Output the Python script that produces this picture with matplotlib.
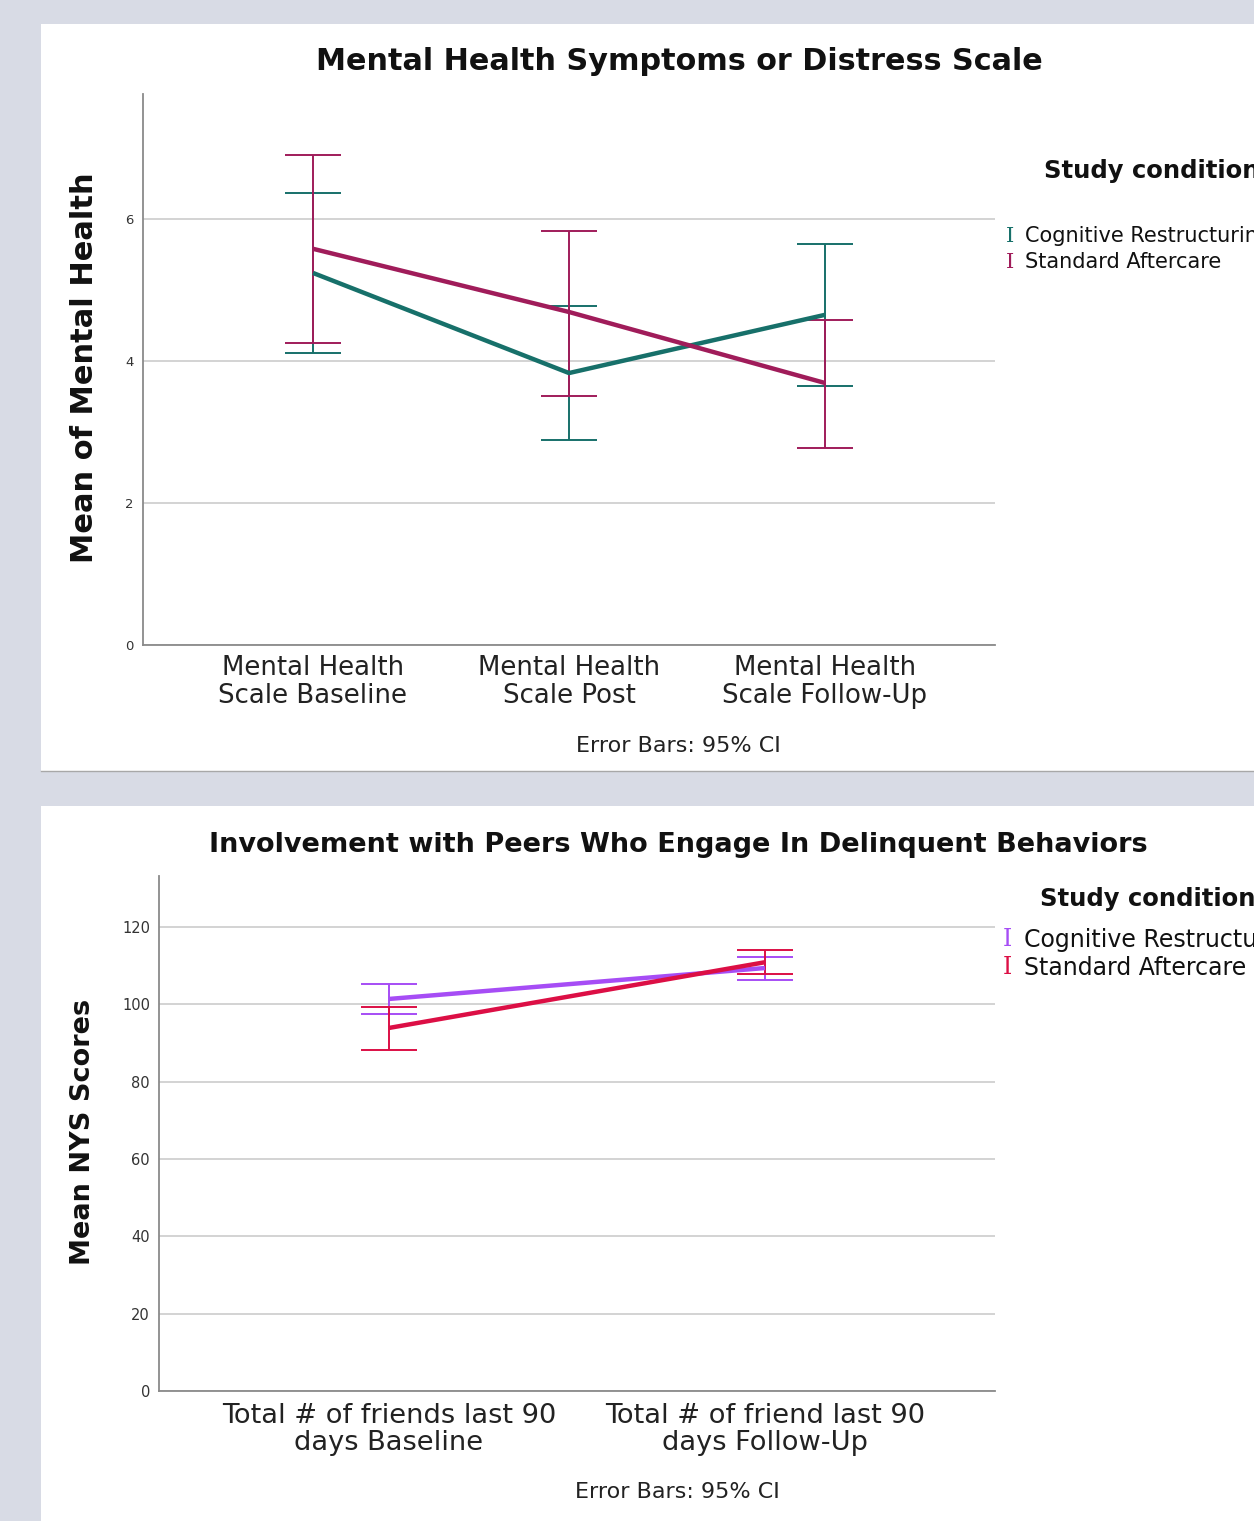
import numpy as np
import matplotlib.pyplot as plt
from matplotlib.patches import Rectangle
from matplotlib.lines import Line2D

# ---- data ----
groups = ['Cognitive Restructuring', 'Standard Aftercare']

mh_cats = ['Mental Health\nScale Baseline', 'Mental Health\nScale Post', 'Mental Health\nScale Follow-Up']
mh_cog_mean = [5.24, 3.83, 4.65]
mh_cog_lo = [4.11, 2.89, 3.65]
mh_cog_hi = [6.37, 4.77, 5.65]
mh_std_mean = [5.58, 4.69, 3.69]
mh_std_lo = [4.25, 3.51, 2.77]
mh_std_hi = [6.90, 5.83, 4.58]
mh_ticks = [0, 2, 4, 6]

nys_cats = ['Total # of friends last 90\ndays Baseline', 'Total # of friend last 90\ndays Follow-Up']
nys_cog_mean = [101.4, 109.4]
nys_cog_lo = [97.5, 106.3]
nys_cog_hi = [105.2, 112.2]
nys_std_mean = [93.9, 110.9]
nys_std_lo = [88.2, 107.8]
nys_std_hi = [99.3, 114.0]
nys_ticks = [0, 20, 40, 60, 80, 100, 120]

W, H = 1254, 1521
fig = plt.figure(figsize=(W / 100, H / 100), dpi=100)
fig.patch.set_facecolor('#d8dbe5')

def fx(px):
    return px / W

def fy(py):
    return 1 - py / H

# white panels
fig.patches.append(Rectangle((fx(41), fy(771)), 1, fy(24) - fy(771), transform=fig.transFigure,
                             facecolor='white', edgecolor='none', zorder=-10))
fig.lines.append(Line2D([fx(41), 1], [fy(771), fy(771)], transform=fig.transFigure,
                        color='#a8a8a8', lw=1, zorder=-9))
fig.patches.append(Rectangle((fx(41), 0), 1, fy(806), transform=fig.transFigure,
                             facecolor='white', edgecolor='none', zorder=-10))


def draw_panel(ax, cats, series, colors, ylim, ticks, xpad, catsize, ls, xpad_pt, ysize):
    x = np.arange(len(cats))
    for (mean, lo, hi), c in zip(series, colors):
        mean = np.array(mean)
        err = [mean - np.array(lo), np.array(hi) - mean]
        ax.errorbar(x, mean, yerr=err, fmt='none', ecolor=c, elinewidth=1.4,
                    capsize=20, capthick=1.4, zorder=3)
    for (mean, lo, hi), c in zip(series, colors):
        ax.plot(x, mean, color=c, lw=3.2, zorder=4, solid_capstyle='butt')
    ax.set_xlim(-xpad, len(cats) - 1 + xpad)
    ax.set_ylim(*ylim)
    ax.set_yticks(ticks)
    ax.set_yticklabels([str(t) for t in ticks], fontsize=ysize, color='#333333')
    ax.set_xticks(x)
    ax.set_xticklabels(cats, fontsize=catsize, color='#222222', linespacing=ls)
    ax.tick_params(axis='both', length=0)
    ax.tick_params(axis='x', pad=xpad_pt)
    ax.tick_params(axis='y', pad=6.5)
    ax.grid(axis='y', color='#d0d0d0', lw=1.3)
    ax.set_axisbelow(True)
    for s in ['top', 'right']:
        ax.spines[s].set_visible(False)
    for s in ['left', 'bottom']:
        ax.spines[s].set_color('#8a8a8a')
        ax.spines[s].set_linewidth(1.3)
    ax.set_facecolor('white')


def legend(x_title, y_title, x_mark, x_text, ys, colors, size):
    # the reference legend runs off the right edge of the picture
    fig.text(fx(x_title), fy(y_title), 'Study condition', fontsize=17.5, fontweight='bold',
             ha='left', va='center', color='#111111')
    for y, g, c in zip(ys, groups, colors):
        fig.text(fx(x_mark), fy(y), 'I', family='DejaVu Serif', fontsize=size, color=c,
                 ha='center', va='center')
        fig.text(fx(x_text), fy(y), g, fontsize=size, ha='left', va='center', color='#111111')


# ---- top panel ----
top_colors = ['#17706a', '#a01c5a']
ax1 = fig.add_axes([fx(143), fy(645), fx(995) - fx(143), fy(94) - fy(645)])
draw_panel(ax1, mh_cats,
           [(mh_cog_mean, mh_cog_lo, mh_cog_hi), (mh_std_mean, mh_std_lo, mh_std_hi)],
           top_colors, (0, 7.76), mh_ticks, 170 / 256, 18.7, 1.1, 7.5, 9.5)
fig.text(fx(679), fy(62), 'Mental Health Symptoms or Distress Scale', fontsize=21.8,
         fontweight='bold', ha='center', va='center', color='#111111')
fig.text(fx(85), fy(368), 'Mean of Mental Health', fontsize=22, fontweight='bold',
         rotation=90, ha='center', va='center', color='#111111')
fig.text(fx(678), fy(746), 'Error Bars: 95% CI', fontsize=16, ha='center', va='center',
         color='#222222')
legend(1044, 171, 1010, 1025, [236, 262], top_colors, 15)

# ---- bottom panel ----
bot_colors = ['#a64df5', '#dc0f45']
ax2 = fig.add_axes([fx(159), fy(1391), fx(995) - fx(159), fy(876) - fy(1391)])
draw_panel(ax2, nys_cats,
           [(nys_cog_mean, nys_cog_lo, nys_cog_hi), (nys_std_mean, nys_std_lo, nys_std_hi)],
           bot_colors, (0, 133.2), nys_ticks, 230 / 376, 19.6, 1.05, 8.5, 10.5)
fig.text(fx(678), fy(845), 'Involvement with Peers Who Engage In Delinquent Behaviors', fontsize=19.5,
         fontweight='bold', ha='center', va='center', color='#111111')
fig.text(fx(83), fy(1132), 'Mean NYS Scores', fontsize=19.5, fontweight='bold',
         rotation=90, ha='center', va='center', color='#111111')
fig.text(fx(677), fy(1492), 'Error Bars: 95% CI', fontsize=16, ha='center', va='center',
         color='#222222')
legend(1040, 899, 1007, 1024, [940, 968], bot_colors, 17)

fig.savefig('out.png', dpi=100, facecolor=fig.get_facecolor())
